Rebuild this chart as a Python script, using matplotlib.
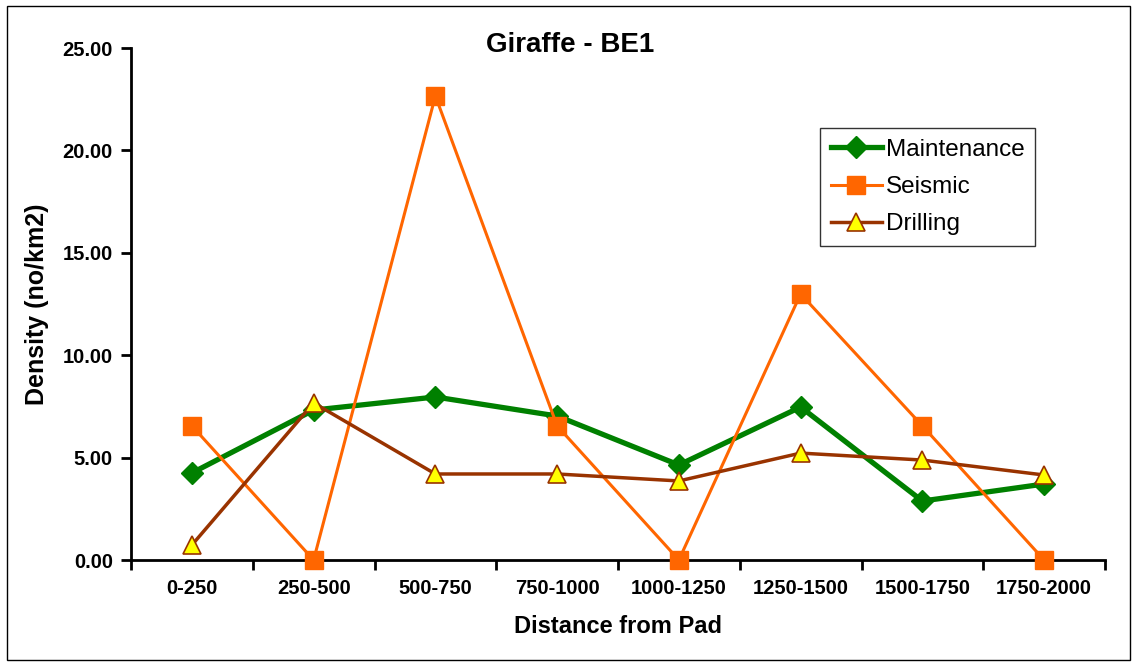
import matplotlib
matplotlib.use("Agg")
import matplotlib.pyplot as plt
from matplotlib.patches import Rectangle
import numpy as np

plt.rcParams['font.family'] = ['Liberation Sans', 'DejaVu Sans']

categories = ["0-250", "250-500", "500-750", "750-1000", "1000-1250", "1250-1500", "1500-1750", "1750-2000"]
maintenance = [4.25, 7.32, 7.96, 7.03, 4.64, 7.47, 2.88, 3.71]
seismic = [6.55, 0.0, 22.66, 6.55, 0.0, 12.99, 6.55, 0.0]
drilling = [0.73, 7.67, 4.20, 4.20, 3.86, 5.22, 4.88, 4.15]
yticks = [0, 5, 10, 15, 20, 25]

fig = plt.figure(figsize=(11.36, 6.66), dpi=100)
ax = fig.add_axes([131/1136, 1-560/666, 974/1136, 512/666])

x = np.arange(len(categories)) + 0.5
ax.plot(x, maintenance, color='#008000', lw=3.8, marker='D', ms=11,
        mfc='#008000', mec='#008000', label='Maintenance', zorder=3, clip_on=False)
ax.plot(x, seismic, color='#FF6600', lw=2.2, marker='s', ms=12.5,
        mfc='#FF6600', mec='#FF6600', label='Seismic', zorder=4, clip_on=False)
ax.plot(x, drilling, color='#993300', lw=2.5, marker='^', ms=13,
        mfc='#FFFF00', mec='#993300', mew=1.2, label='Drilling', zorder=5, clip_on=False)

ax.set_xlim(0, len(categories))
ax.set_ylim(0, 25)
ax.set_yticks(yticks)
ax.set_yticklabels([f"{v:.2f}" for v in yticks], fontsize=14.5, fontweight='bold')
ax.set_xticks(np.arange(len(categories) + 1))
ax.set_xticklabels([])
ax.set_xticks(x, minor=True)
ax.set_xticklabels(categories, minor=True, fontsize=14.5, fontweight='bold')
ax.tick_params(axis='x', which='minor', length=0, pad=14)
ax.tick_params(axis='both', which='major', direction='out', length=7, width=2, color='black')
ax.tick_params(axis='y', pad=6)

for s in ['top', 'right']:
    ax.spines[s].set_visible(False)
for s in ['left', 'bottom']:
    ax.spines[s].set_linewidth(2)
    ax.spines[s].set_color('black')

ax.set_xlabel("Distance from Pad", fontsize=17, fontweight='bold', labelpad=12)
ax.set_ylabel("Density (no/km2)", fontsize=18, fontweight='bold', labelpad=10)
fig.text(570/1136, 1-45/666, "Giraffe - BE1", fontsize=20, fontweight='bold', ha='center', va='center')

leg = ax.legend(loc='upper left', bbox_to_anchor=((820-131)/974, (560-128)/512),
                fontsize=17.5, frameon=True, fancybox=False, borderpad=0.45,
                handlelength=2.1, handletextpad=0.15, labelspacing=0.62, borderaxespad=0)
leg.get_frame().set_edgecolor('black')
leg.get_frame().set_linewidth(1.0)

fig.patches.append(Rectangle((7/1136, 1-660/666), 1123/1136, 654/666, transform=fig.transFigure,
                             fill=False, edgecolor='black', lw=1.0))

fig.savefig("out.png", dpi=100)
